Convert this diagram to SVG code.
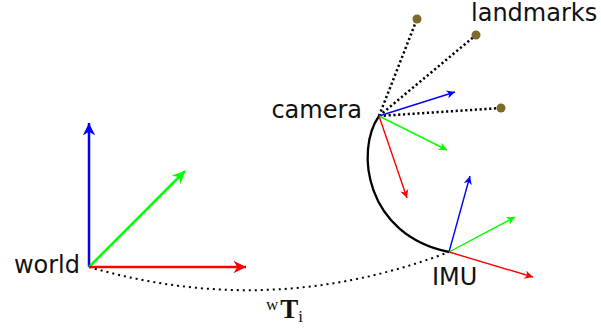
<svg xmlns="http://www.w3.org/2000/svg" width="601" height="329" viewBox="0 0 601 329">
<style>
.lbl{font-family:"DejaVu Sans",sans-serif;font-size:24px;fill:#111}
.big{stroke-width:2.5;fill:none}
.sm{stroke-width:1.4;fill:none}
.dot{stroke:#000;stroke-width:2.5;stroke-dasharray:2.2 2.6;fill:none}
.lm{fill:#7f6a2e}
</style>
<defs>
<marker id="hr" viewBox="0 0 10 10" refX="10" refY="5" markerWidth="6.5" markerHeight="5" orient="auto" markerUnits="strokeWidth"><path d="M0,0 L10,5 L0,10 L3,5 Z" fill="#f00"/></marker>
<marker id="hg" viewBox="0 0 10 10" refX="10" refY="5" markerWidth="6.5" markerHeight="5" orient="auto" markerUnits="strokeWidth"><path d="M0,0 L10,5 L0,10 L3,5 Z" fill="#0f0"/></marker>
<marker id="hb" viewBox="0 0 10 10" refX="10" refY="5" markerWidth="6.5" markerHeight="5" orient="auto" markerUnits="strokeWidth"><path d="M0,0 L10,5 L0,10 L3,5 Z" fill="#00f"/></marker>
<marker id="sr" viewBox="0 0 10 10" refX="10" refY="5" markerWidth="8" markerHeight="6" orient="auto" markerUnits="strokeWidth"><path d="M0,0 L10,5 L0,10 L3,5 Z" fill="#f00"/></marker>
<marker id="sg" viewBox="0 0 10 10" refX="10" refY="5" markerWidth="8" markerHeight="6" orient="auto" markerUnits="strokeWidth"><path d="M0,0 L10,5 L0,10 L3,5 Z" fill="#0f0"/></marker>
<marker id="sb" viewBox="0 0 10 10" refX="10" refY="5" markerWidth="8" markerHeight="6" orient="auto" markerUnits="strokeWidth"><path d="M0,0 L10,5 L0,10 L3,5 Z" fill="#00f"/></marker>
</defs>
<g id="connectors">
<path d="M89,267 Q270,320 449,252" stroke="#000" fill="none" stroke-width="2" stroke-dasharray="2 4"/>
<path d="M379,116 C355,150 365,235 449,252" stroke="#000" stroke-width="2.3" fill="none"/>
<path class="dot" d="M379,116 L417,19"/>
<path class="dot" d="M379,116 L476,35"/>
<path class="dot" d="M379,116 L501,108"/>
</g>
<g id="world">
<line class="big" x1="89" y1="267" x2="89" y2="123" stroke="#00f" marker-end="url(#hb)"/>
<line class="big" x1="89" y1="267" x2="185" y2="171" stroke="#0f0" marker-end="url(#hg)"/>
<line class="big" x1="89" y1="267" x2="246" y2="267" stroke="#f00" marker-end="url(#hr)"/>
<text class="lbl" x="80" y="273" text-anchor="end">world</text>
</g>
<g id="camera">
<line class="sm" x1="379" y1="116" x2="455" y2="92" stroke="#00f" marker-end="url(#sb)"/>
<line class="sm" x1="379" y1="116" x2="447" y2="150" stroke="#0f0" marker-end="url(#sg)"/>
<line class="sm" x1="379" y1="116" x2="407" y2="198" stroke="#f00" marker-end="url(#sr)"/>
<text class="lbl" x="362" y="118" text-anchor="end">camera</text>
</g>
<g id="imu">
<line class="sm" x1="449" y1="252" x2="470" y2="176" stroke="#00f" marker-end="url(#sb)"/>
<line class="sm" x1="449" y1="252" x2="515" y2="217" stroke="#0f0" marker-end="url(#sg)"/>
<line class="sm" x1="449" y1="252" x2="533" y2="277" stroke="#f00" marker-end="url(#sr)"/>
<text class="lbl" x="432" y="285">IMU</text>
</g>
<g id="landmarks">
<circle class="lm" cx="417" cy="19" r="4.5"/>
<circle class="lm" cx="476" cy="35" r="4.5"/>
<circle class="lm" cx="501" cy="108" r="4.5"/>
<text class="lbl" x="471" y="21">landmarks</text>
</g>
<g id="transform-label">
<text x="266" y="318" font-family="'Liberation Serif',serif" fill="#111"><tspan font-size="17" dy="-8">w</tspan><tspan font-size="27" font-weight="bold" dx="2" dy="8">T</tspan><tspan font-size="17" dy="4">i</tspan></text>
</g>
</svg>
